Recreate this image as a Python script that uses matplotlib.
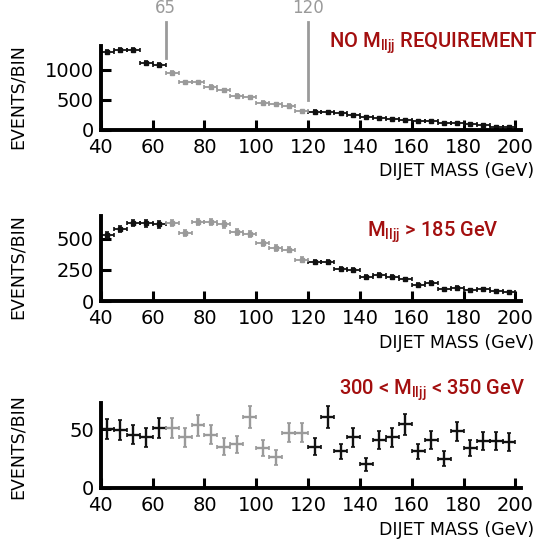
import numpy as np
import matplotlib
matplotlib.use("Agg")
import matplotlib.pyplot as plt

plt.rcParams['font.family'] = ['DejaVu Sans']

# 5 GeV bins from 40 to 200
edges = np.arange(40, 205, 5)
centers = edges[:-1] + 2.5

# events per bin
no_cut = [1300, 1330, 1335, 1111, 1083,
          945, 795, 795, 722, 660, 570, 545, 455, 430, 405, 317,
          308, 305, 278, 250, 212, 195, 183, 167, 155, 150, 112, 112, 95, 83, 55, 45]
cut_185 = [530, 578, 627, 621, 613,
           627, 546, 631, 631, 613, 551, 538, 465, 425, 411, 331,
           314, 314, 258, 245, 191, 210, 191, 175, 129, 148, 94, 107, 89, 94, 81, 75]
cut_300_350 = [50, 49, 45, 43, 51,
               51, 43, 53, 45, 35, 37, 60, 34, 26, 47, 47,
               35, 60, 31, 43, 20, 41, 43, 54, 31, 41, 25, 48, 34, 40, 40, 39]

window = (65, 120)  # signal window drawn in gray
xticks = [40, 60, 80, 100, 120, 140, 160, 180, 200]

black = '#111111'
gray = '#9a9a9a'
red = '#a30f0f'

fig = plt.figure(figsize=(5.39, 5.48), dpi=100)

panels = [
    (no_cut, [0.187, 0.7628, 0.779, 0.1533], 1400, [0, 500, 1000], True),
    (cut_185, [0.187, 0.4507, 0.779, 0.155], 680, [0, 250, 500], True),
    (cut_300_350, [0.187, 0.1095, 0.779, 0.155], 72, [0, 50], False),
]

axes = []
for vals, rect, ytop, yticks, marks in panels:
    ax = fig.add_axes(rect)
    vals = np.array(vals, dtype=float)
    err = np.sqrt(vals)
    inside = (centers > window[0]) & (centers < window[1])
    for sel, col in [(~inside, black), (inside, gray)]:
        ax.errorbar(centers[sel], vals[sel], xerr=2.5,
                    yerr=err[sel] if marks else err[sel] * 1.2,
                    fmt='s' if marks else 'none', ms=2.5, color=col,
                    ecolor=col, elinewidth=1.7 if not marks else 1.3,
                    capsize=1.5, capthick=1.2, lw=0)
    ax.set_xlim(40, 202)
    ax.set_ylim(0, ytop)
    ax.set_xticks(xticks)
    ax.set_yticks(yticks)
    for s in ['top', 'right']:
        ax.spines[s].set_visible(False)
    for s in ['left', 'bottom']:
        ax.spines[s].set_linewidth(2.8)
    ax.tick_params(direction='in', length=7, width=2.2, labelsize=14)
    ax.tick_params(axis='x', pad=6)
    ax.tick_params(axis='y', pad=5)
    ax.text(1.033, -0.49, 'DIJET MASS (GeV)', transform=ax.transAxes,
            ha='right', va='center', fontsize=12.5)
    axes.append(ax)

# EVENTS/BIN labels
for yc in [0.823, 0.513, 0.186]:
    fig.text(0.033, yc, 'EVENTS/BIN', rotation=90, ha='center', va='center',
             fontsize=12.5)

# window markers above the first panel
ax1 = axes[0]
ax1.plot([65, 65], [1200, 1800], color=gray, lw=2, clip_on=False)
ax1.plot([120, 120], [500, 1800], color=gray, lw=2, clip_on=False)
ax1.text(65, 1880, '65', color=gray, ha='center', va='bottom', fontsize=12)
ax1.text(120, 1880, '120', color=gray, ha='center', va='bottom', fontsize=12)

tfont = dict(color=red, fontsize=14.5, fontweight='medium',
             family=['Roboto', 'DejaVu Sans'])
fig.text(0.997, 0.9124, r'NO M$_{\mathregular{lljj}}$ REQUIREMENT',
         ha='right', va='baseline', **tfont)
fig.text(0.803, 0.5675, r'M$_{\mathregular{lljj}}$ > 185 GeV',
         ha='center', va='baseline', **tfont)
fig.text(0.975, 0.2792, r'300 < M$_{\mathregular{lljj}}$ < 350 GeV',
         ha='right', va='baseline', **tfont)

fig.savefig('out.png', dpi=100)
